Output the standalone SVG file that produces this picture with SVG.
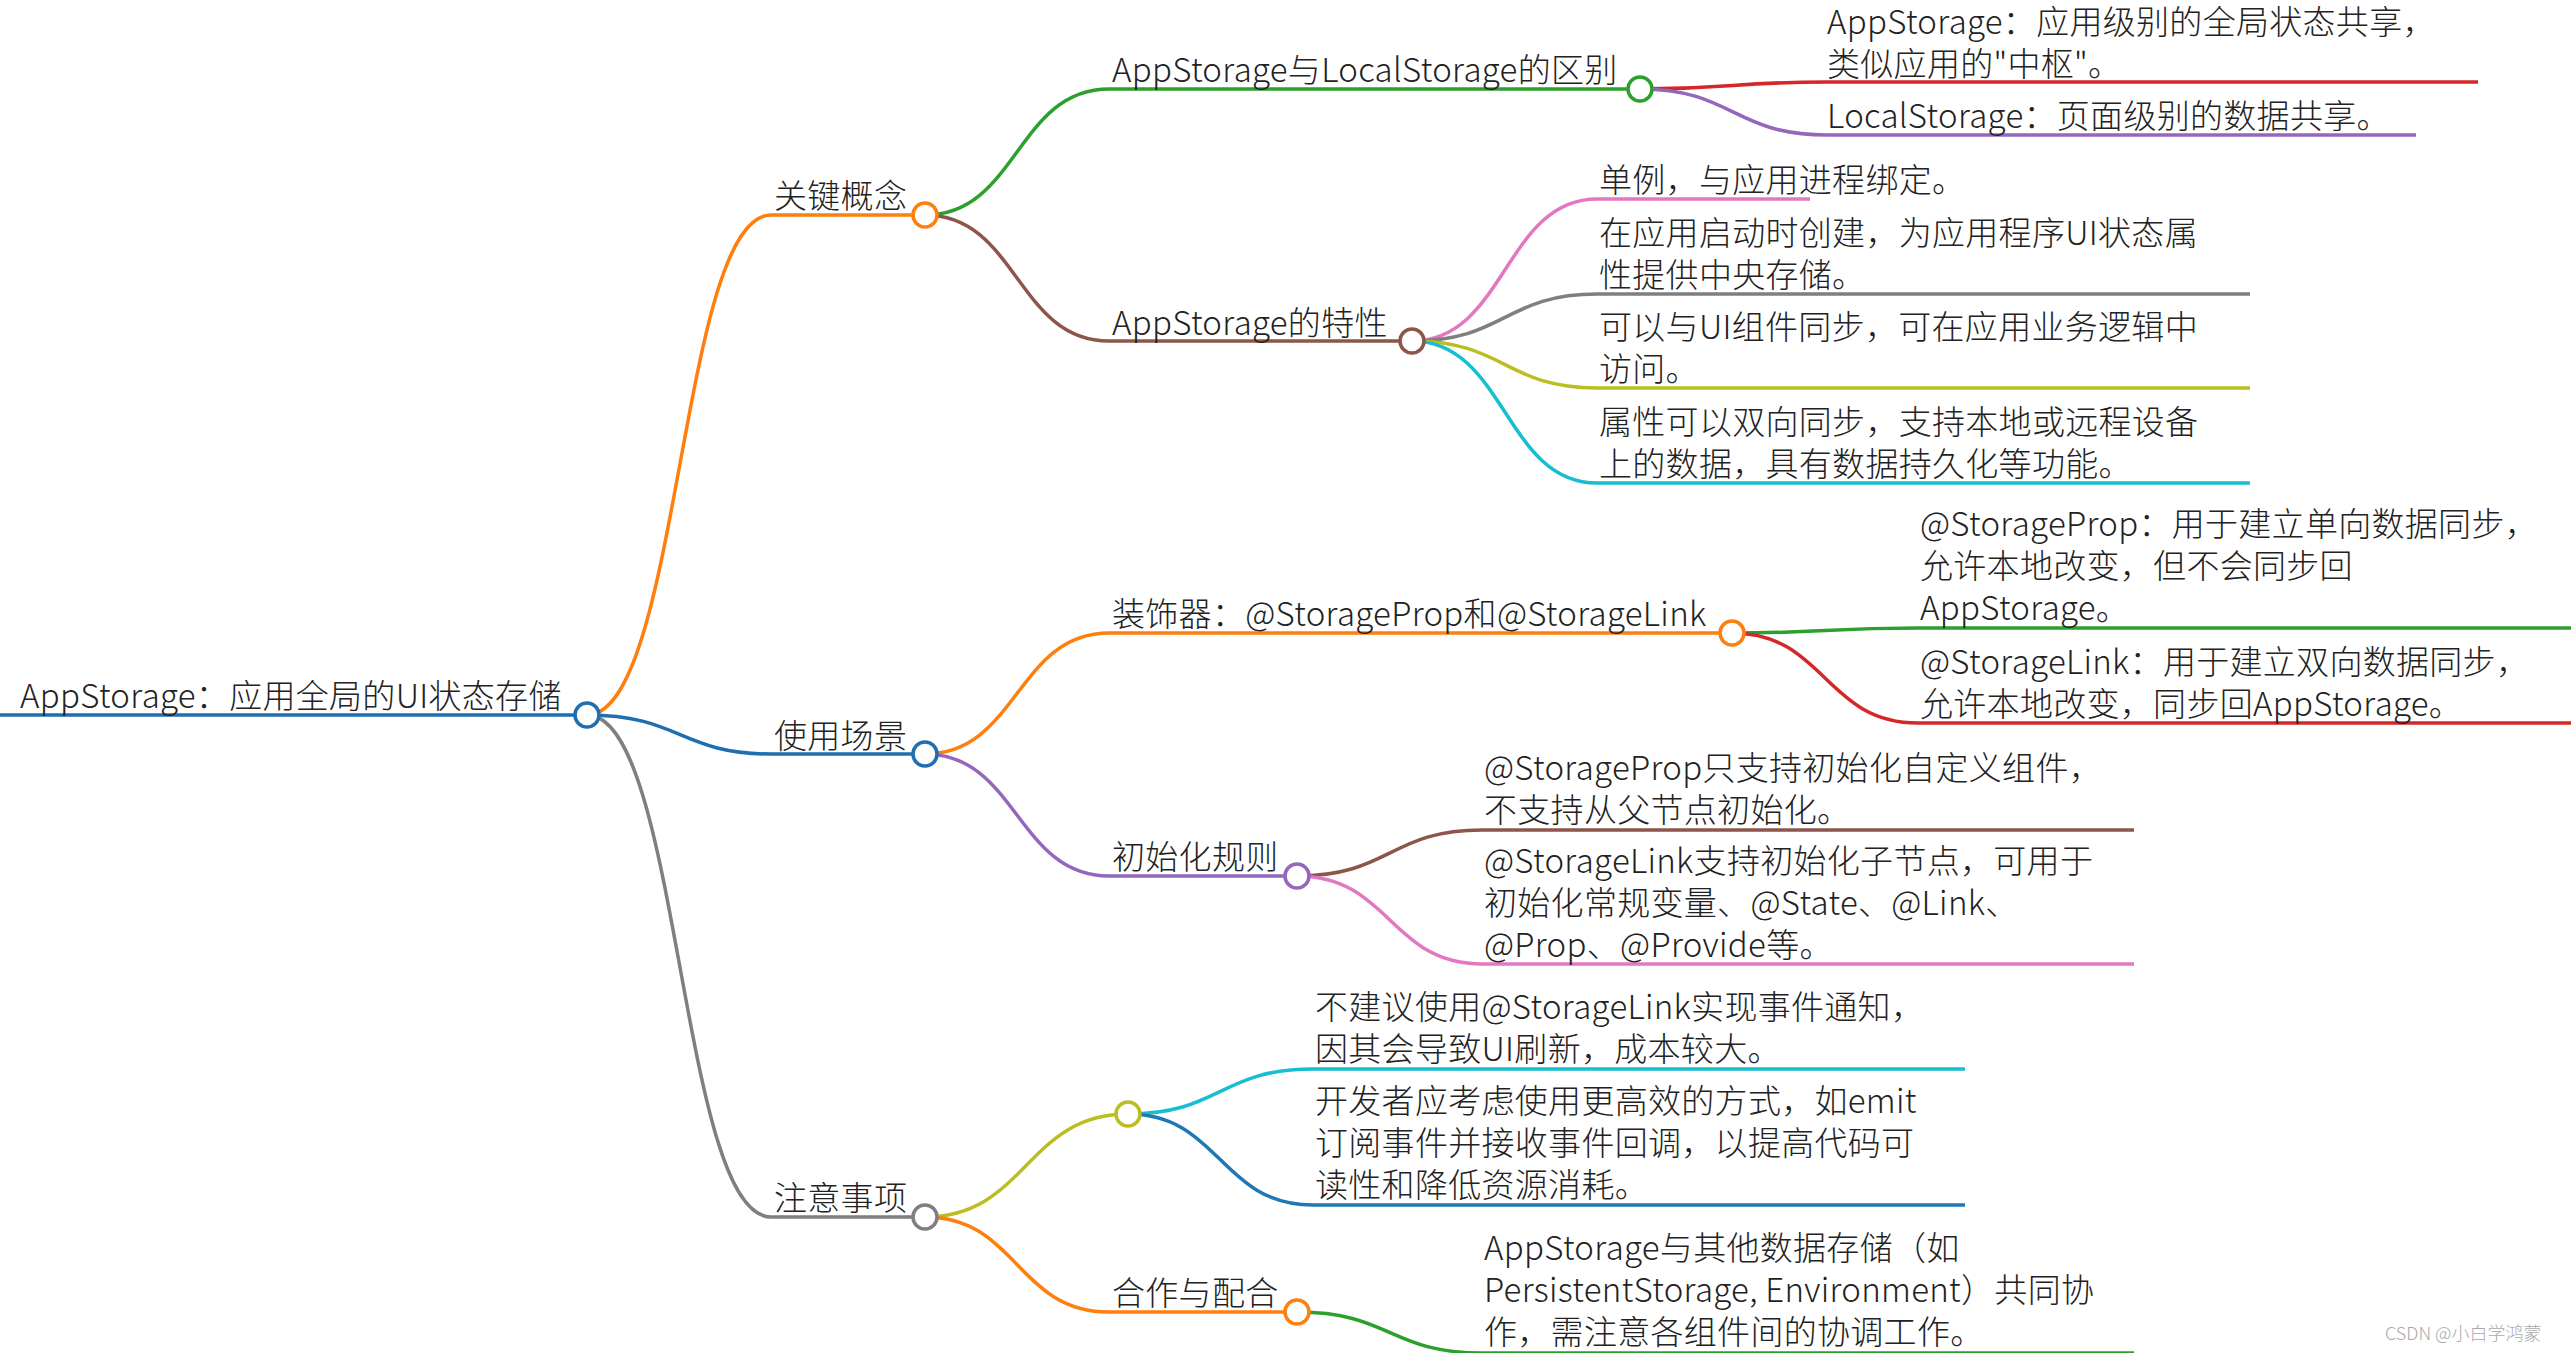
<svg xmlns="http://www.w3.org/2000/svg" width="2571" height="1353" viewBox="0 0 2571 1353">
<style>
text{font-family:"Noto Sans CJK SC","Noto Sans",sans-serif;font-size:33px;font-weight:300;fill:#222;letter-spacing:0.3px}
.c{fill:#fff;stroke-width:3.5}
path{fill:none;stroke-width:3.5}
.wm{font-size:18px;fill:#aaa;letter-spacing:0}
</style>
<rect width="2571" height="1353" fill="#fff"/>
<g id="connectors">
<path d="M0 715 L587 715" stroke="#1f6fb0" stroke-width="10"/>
<path d="M587 715 C680 715,680 215,771 215 L925 215" stroke="#ff7f0e"/>
<path d="M587 715 C680 715,680 754,771 754 L925 754" stroke="#1f6fb0" stroke-width="5"/>
<path d="M587 715 C680 715,680 1217,771 1217 L925 1217" stroke="#7f7f7f"/>
<path d="M925 215 C1017 215,1017 89,1109 89 L1640 89" stroke="#2ca02c"/>
<path d="M925 215 C1017 215,1017 341,1109 341 L1412 341" stroke="#8c564b"/>
<path d="M1640 89 C1733 89,1733 82,1827 82 L2478 82" stroke="#d62728"/>
<path d="M1640 89 C1733 89,1733 135,1827 135 L2416 135" stroke="#9467bd"/>
<path d="M1412 341 C1505 341,1505 199,1597 199 L1810 199" stroke="#e377c2"/>
<path d="M1412 341 C1505 341,1505 294,1597 294 L2250 294" stroke="#7f7f7f"/>
<path d="M1412 341 C1505 341,1505 388,1597 388 L2250 388" stroke="#bcbd22"/>
<path d="M1412 341 C1505 341,1505 483,1597 483 L2250 483" stroke="#17becf"/>
<path d="M925 754 C1017 754,1017 633,1109 633 L1732 633" stroke="#ff7f0e"/>
<path d="M925 754 C1017 754,1017 876,1109 876 L1297 876" stroke="#9467bd"/>
<path d="M1732 633 C1825 633,1825 628,1918 628 L2571 628" stroke="#2ca02c"/>
<path d="M1732 633 C1825 633,1825 723,1918 723 L2571 723" stroke="#d62728"/>
<path d="M1297 876 C1390 876,1390 830,1482 830 L2134 830" stroke="#8c564b"/>
<path d="M1297 876 C1390 876,1390 964,1482 964 L2134 964" stroke="#e377c2"/>
<path d="M925 1217 C1026 1217,1026 1114,1128 1114" stroke="#bcbd22"/>
<path d="M925 1217 C1017 1217,1017 1312,1109 1312 L1297 1312" stroke="#ff7f0e"/>
<path d="M1128 1114 C1220 1114,1220 1069,1313 1069 L1965 1069" stroke="#17becf"/>
<path d="M1128 1114 C1220 1114,1220 1205,1313 1205 L1965 1205" stroke="#1f77b4"/>
<path d="M1297 1312 C1390 1312,1390 1353,1482 1353 L2134 1353" stroke="#2ca02c"/>
</g>
<g id="root"><text x="20" y="708">AppStorage：应用全局的UI状态存储</text><circle class="c" cx="587" cy="715" r="12" stroke="#1f6fb0"/></g>
<g id="n-key"><text x="774" y="208">关键概念</text><circle class="c" cx="925" cy="215" r="12" stroke="#ff7f0e"/></g>
<g id="n-use"><text x="774" y="748">使用场景</text><circle class="c" cx="925" cy="754" r="12" stroke="#1f6fb0"/></g>
<g id="n-note"><text x="774" y="1210">注意事项</text><circle class="c" cx="925" cy="1217" r="12" stroke="#7f7f7f"/></g>
<g id="n-diff"><text x="1112" y="82">AppStorage与LocalStorage的区别</text><circle class="c" cx="1640" cy="89" r="12" stroke="#2ca02c"/></g>
<g id="n-feat"><text x="1112" y="335">AppStorage的特性</text><circle class="c" cx="1412" cy="341" r="12" stroke="#8c564b"/></g>
<g id="n-deco"><text x="1112" y="626">装饰器：@StorageProp和@StorageLink</text><circle class="c" cx="1732" cy="633" r="12" stroke="#ff7f0e"/></g>
<g id="n-init"><text x="1112" y="869">初始化规则</text><circle class="c" cx="1297" cy="876" r="12" stroke="#9467bd"/></g>
<g id="n-anon"><circle class="c" cx="1128" cy="1114" r="12" stroke="#bcbd22"/></g>
<g id="n-coop"><text x="1112" y="1305">合作与配合</text><circle class="c" cx="1297" cy="1312" r="12" stroke="#ff7f0e"/></g>
<g id="l1"><text x="1827" y="34">AppStorage：应用级别的全局状态共享，</text><text x="1827" y="76">类似应用的"中枢"。</text></g>
<g id="l2"><text x="1827" y="128">LocalStorage：页面级别的数据共享。</text></g>
<g id="l3"><text x="1599" y="192">单例，与应用进程绑定。</text></g>
<g id="l4"><text x="1599" y="245">在应用启动时创建，为应用程序UI状态属</text><text x="1599" y="287">性提供中央存储。</text></g>
<g id="l5"><text x="1599" y="339">可以与UI组件同步，可在应用业务逻辑中</text><text x="1599" y="381">访问。</text></g>
<g id="l6"><text x="1599" y="434">属性可以双向同步，支持本地或远程设备</text><text x="1599" y="476">上的数据，具有数据持久化等功能。</text></g>
<g id="l7"><text x="1920" y="536">@StorageProp：用于建立单向数据同步，</text><text x="1920" y="578">允许本地改变，但不会同步回</text><text x="1920" y="620">AppStorage。</text></g>
<g id="l8"><text x="1920" y="674">@StorageLink：用于建立双向数据同步，</text><text x="1920" y="716">允许本地改变，同步回AppStorage。</text></g>
<g id="l9"><text x="1484" y="780">@StorageProp只支持初始化自定义组件，</text><text x="1484" y="822">不支持从父节点初始化。</text></g>
<g id="l10"><text x="1484" y="873">@StorageLink支持初始化子节点，可用于</text><text x="1484" y="915">初始化常规变量、@State、@Link、</text><text x="1484" y="957">@Prop、@Provide等。</text></g>
<g id="l11"><text x="1315" y="1019">不建议使用@StorageLink实现事件通知，</text><text x="1315" y="1061">因其会导致UI刷新，成本较大。</text></g>
<g id="l12"><text x="1315" y="1113">开发者应考虑使用更高效的方式，如emit</text><text x="1315" y="1155">订阅事件并接收事件回调，以提高代码可</text><text x="1315" y="1197">读性和降低资源消耗。</text></g>
<g id="l13"><text x="1484" y="1260">AppStorage与其他数据存储（如</text><text x="1484" y="1302">PersistentStorage, Environment）共同协</text><text x="1484" y="1344">作，需注意各组件间的协调工作。</text></g>
<text class="wm" x="2385" y="1340">CSDN @小白学鸿蒙</text>
</svg>
